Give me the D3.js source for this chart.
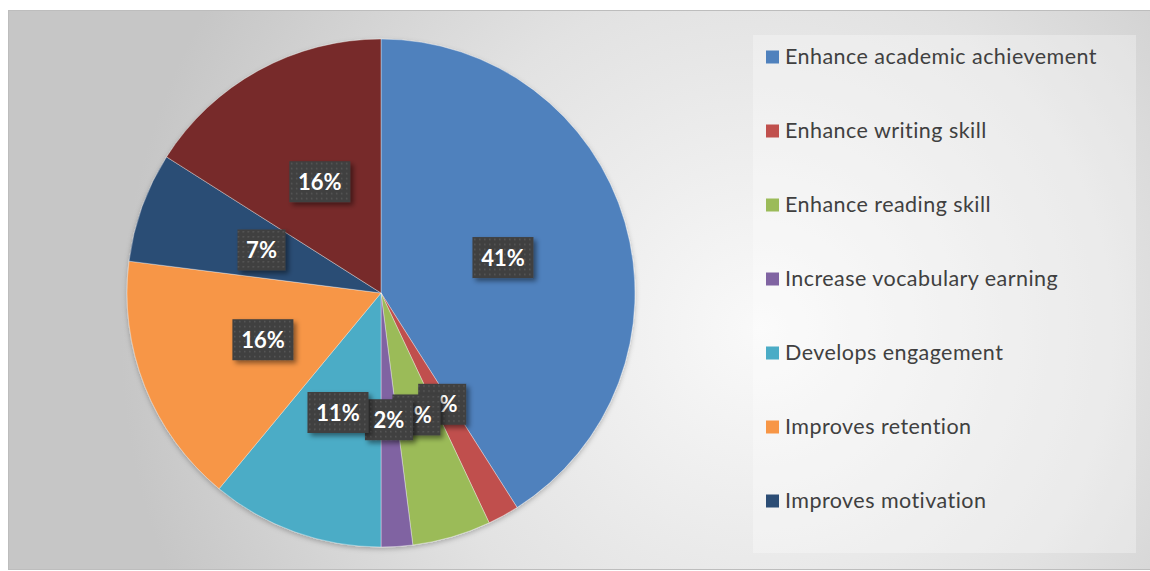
<!DOCTYPE html>
<html>
<head>
<meta charset="utf-8">
<script src="https://cdn.jsdelivr.net/npm/d3@7"></script>
<style>
  html, body { margin: 0; padding: 0; background: #ffffff; }
  svg { display: block; }
</style>
</head>
<body>
<svg id="chart" width="1150" height="571"></svg>
<script>
// Reasons for using the approach, share of responses (%)
const categories = [
  "Enhance academic achievement",
  "Enhance writing skill",
  "Enhance reading skill",
  "Increase vocabulary earning",
  "Develops engagement",
  "Improves retention",
  "Improves motivation",
  "Other"
];
const values = [41, 2, 5, 2, 11, 16, 7, 16];
const colors = ["#4f81bd", "#c0504d", "#9bbb59", "#8064a2", "#4bacc6", "#f79646", "#2c4d75", "#772c2a"];

const W = 1150, H = 571;
const svg = d3.select("#chart");
const defs = svg.append("defs");

// chart-area background: soft light centre fading to grey edges
const bg = defs.append("radialGradient")
  .attr("id", "bgGrad")
  .attr("gradientUnits", "userSpaceOnUse")
  .attr("cx", 760).attr("cy", 330).attr("r", 640);
bg.append("stop").attr("offset", 0).attr("stop-color", "#f9f9f9");
bg.append("stop").attr("offset", 0.55).attr("stop-color", "#e2e2e2");
bg.append("stop").attr("offset", 1).attr("stop-color", "#c6c6c6");

// dotted texture for the data-label boxes
const pat = defs.append("pattern")
  .attr("id", "dots")
  .attr("patternUnits", "userSpaceOnUse")
  .attr("width", 5).attr("height", 5);
pat.append("rect").attr("width", 5).attr("height", 5).attr("fill", "#3f3f3f");
pat.append("rect").attr("x", 1).attr("y", 1).attr("width", 1.6).attr("height", 1.6).attr("fill", "#575757");

const lblShadow = defs.append("filter").attr("id", "lblShadow")
  .attr("x", "-30%").attr("y", "-30%").attr("width", "160%").attr("height", "170%");
lblShadow.append("feDropShadow")
  .attr("dx", 3).attr("dy", 3).attr("stdDeviation", 2.5)
  .attr("flood-color", "#000").attr("flood-opacity", 0.45);

const pieShadow = defs.append("filter").attr("id", "pieShadow")
  .attr("x", "-10%").attr("y", "-10%").attr("width", "120%").attr("height", "120%");
pieShadow.append("feDropShadow")
  .attr("dx", 0).attr("dy", 2).attr("stdDeviation", 2.5)
  .attr("flood-color", "#000").attr("flood-opacity", 0.25);

// outer chart area
svg.append("rect")
  .attr("x", 8.5).attr("y", 10.5)
  .attr("width", W - 8).attr("height", H - 12)
  .attr("fill", "url(#bgGrad)")
  .attr("stroke", "#bdbdbd").attr("stroke-width", 1);

// legend panel
const legendBox = { x: 753, y: 35, w: 383, h: 518 };
svg.append("rect")
  .attr("x", legendBox.x).attr("y", legendBox.y)
  .attr("width", legendBox.w).attr("height", legendBox.h)
  .attr("fill", "#ffffff").attr("fill-opacity", 0.3);

// pie
const cx = 381, cy = 293, R = 254;
const pie = d3.pie().value(d => d).sort(null);
const arcs = pie(values);
const arc = d3.arc().innerRadius(0).outerRadius(R);

const g = svg.append("g").attr("transform", `translate(${cx},${cy})`);
g.append("g").attr("filter", "url(#pieShadow)")
  .selectAll("path")
  .data(arcs)
  .join("path")
  .attr("d", arc)
  .attr("fill", (d, i) => colors[i])
  .attr("stroke", "#ffffff")
  .attr("stroke-opacity", 0.45)
  .attr("stroke-width", 0.8);

// data labels: boxes centred on each slice's centroid
const labels = g.append("g").selectAll("g")
  .data(arcs)
  .join("g")
  .attr("transform", d => { const c = arc.centroid(d); return `translate(${c[0]},${c[1]})`; });

labels.each(function (d) {
  const sel = d3.select(this);
  const box = sel.append("rect").attr("fill", "url(#dots)").attr("filter", "url(#lblShadow)");
  const t = sel.append("text")
    .attr("text-anchor", "middle")
    .attr("dy", "0.37em")
    .attr("fill", "#ffffff")
    .attr("font-family", "Lato, 'Open Sans', sans-serif")
    .attr("font-weight", 700)
    .attr("font-size", 22)
    .text(d.data + "%");
  const tw = t.node().getComputedTextLength();
  const bw = Math.round(tw + 17), bh = 41;
  box.attr("x", -bw / 2).attr("y", -bh / 2).attr("width", bw).attr("height", bh);
});

// legend entries (as many as fit in the panel)
const rowGap = 74;
const firstRow = 57;
const maxRows = Math.floor((legendBox.y + legendBox.h - firstRow) / rowGap) + 1;
const legendItems = categories.slice(0, Math.min(categories.length, maxRows));
const lg = svg.append("g").selectAll("g")
  .data(legendItems)
  .join("g")
  .attr("transform", (d, i) => `translate(766,${firstRow + i * rowGap})`);
lg.append("rect")
  .attr("x", 0).attr("y", -6.5)
  .attr("width", 13).attr("height", 13)
  .attr("fill", (d, i) => colors[i]);
lg.append("text")
  .attr("x", 19).attr("y", 7)
  .attr("fill", "#404040")
  .attr("font-family", "Lato, 'Open Sans', sans-serif")
  .attr("font-size", 21.5)
  .attr("letter-spacing", 0.45)
  .text(d => d);
</script>
</body>
</html>
